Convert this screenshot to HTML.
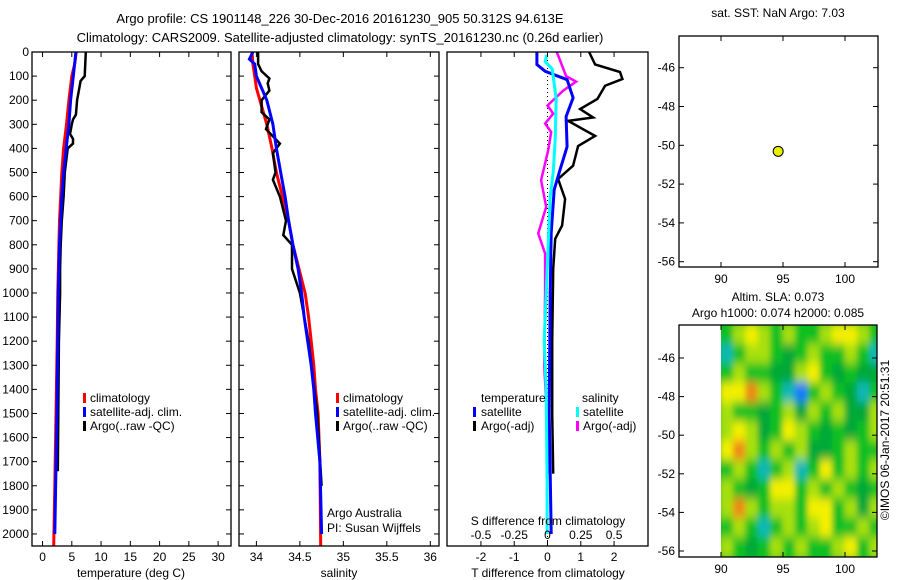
<!DOCTYPE html>
<html><head><meta charset="utf-8"><style>
html,body{margin:0;padding:0;background:#fff;}
svg{display:block;font-family:"Liberation Sans",sans-serif;font-size:12px;}
</style></head><body>
<svg id="fig" width="900" height="580" viewBox="0 0 900 580">
<text x="340" y="23" text-anchor="middle" font-size="13">Argo profile: CS 1901148_226 30-Dec-2016 20161230_905 50.312S 94.613E</text>
<text x="340" y="42" text-anchor="middle" font-size="13">Climatology: CARS2009. Satellite-adjusted climatology: synTS_20161230.nc (0.26d earlier)</text>
<text x="778" y="17" text-anchor="middle">sat. SST: NaN Argo: 7.03</text>
<text x="778" y="301" text-anchor="middle">Altim. SLA: 0.073</text>
<text x="778" y="317" text-anchor="middle">Argo h1000: 0.074 h2000: 0.085</text>
<text transform="translate(889,440) rotate(-90)" text-anchor="middle">©IMOS 06-Jan-2017 20:51:31</text>
<g id="plots"></g>
</svg>
<script>
// ---- data ----
const depthTicks=[0,100,200,300,400,500,600,700,800,900,1000,1100,1200,1300,1400,1500,1600,1700,1800,1900,2000];
const tempTicks=[0,5,10,15,20,25,30];
const salTicks=[34,34.5,35,35.5,36];
const salTickLabels=["34","34.5","35","35.5","36"];
const tdTicks=[-2,-1,0,1,2];
const sdTicks=[-0.5,-0.25,0,0.25,0.5];
const sdTickLabels=["-0.5","-0.25","0","0.25","0.5"];
const lonTicks=[90,95,100];
const latTicks=[-46,-48,-50,-52,-54,-56];

const tClimD=[0,50,100,200,300,400,500,600,700,800,1000,1200,1500,1800,2050];
const tClimV=[5.75,5.5,5.0,4.5,4.1,3.6,3.3,3.1,2.9,2.8,2.6,2.5,2.3,2.1,1.9];
const tSatD=[0,100,200,300,400,500,600,700,800,1000,1500,2000];
const tSatV=[5.7,5.25,4.8,4.5,4.05,3.6,3.3,3.1,2.9,2.7,2.45,2.1];
const tArgoD=[0,100,120,200,260,280,300,340,360,380,400,500,600,700,800,900,1000,1200,1500,1740];
const tArgoV=[7.4,7.2,6.5,5.9,5.7,5.2,5.0,4.7,5.2,5.2,4.3,3.8,3.6,3.3,3.1,3.0,3.0,2.8,2.7,2.6];

const sClimD=[0,50,100,150,200,300,400,500,600,700,800,900,1000,1100,1200,1300,1400,1500,1700,2050];
const sClimV=[33.95,33.96,33.98,34.0,34.04,34.12,34.18,34.23,34.30,34.37,34.42,34.49,34.56,34.60,34.63,34.66,34.68,34.71,34.73,34.74];
const sSatD=[0,30,50,100,150,200,300,400,500,600,700,800,900,1000,1100,1200,1300,1400,1500,1700,2000];
const sSatV=[33.96,33.92,33.98,34.0,34.06,34.12,34.19,34.23,34.28,34.33,34.37,34.42,34.48,34.52,34.55,34.59,34.63,34.66,34.68,34.73,34.75];
const sArgoD=[0,50,80,110,130,160,200,250,280,320,380,420,500,530,600,700,760,800,900,1000,1200,1500,1800];
const sArgoV=[34.02,34.02,34.06,34.15,34.13,34.15,34.06,34.06,34.15,34.11,34.27,34.19,34.22,34.19,34.27,34.34,34.31,34.41,34.41,34.50,34.60,34.70,34.75];

const dTSatD=[0,52,80,115,190,268,393,488,571,750,1000,1500,2000];
const dTSatV=[-0.32,-0.32,-0.07,0.59,0.77,0.56,0.59,0.38,0.2,0.11,0.08,0.05,0.11];
const dTArgoD=[0,52,83,112,140,195,237,272,286,348,390,472,527,610,720,775,900,1200,1500,1750];
const dTArgoV=[1.25,1.43,2.18,2.25,1.73,1.5,0.98,1.37,0.62,1.43,0.92,0.77,0.32,0.53,0.44,0.23,0.17,0.14,0.14,0.17];
const dSSatD=[12,40,70,195,362,500,600,800,1000,1200,1400,1800,2000];
const dSSatV=[-0.005,-0.018,0.035,0.065,0.058,0.043,0.02,0.005,-0.01,-0.025,-0.01,-0.003,-0.003];
const dSArgoD=[0,100,123,160,222,256,297,332,408,532,643,753,836,1000,1300,1600,1750];
const dSArgoV=[0.07,0.14,0.215,0.118,0,0.043,-0.018,0.028,0.005,-0.048,-0.01,-0.07,-0.018,-0.018,-0.025,0.005,0.013];

const argoLon=[94.61];
const argoLat=[-50.31];
const slaLons=[90.5,91.5,92.5,93.5,94.5,95.5,96.5,97.5,98.5,99.5,100.5,101.5,102.5];
const slaLats=[-44.8,-45.8,-46.8,-47.8,-48.8,-49.8,-50.8,-51.8,-52.8,-53.8,-54.8,-55.8];
const slaGrid=[
[0,1,2,1,0,1,0,0,1,2,2,1,0],
[-2,0,1,1,0,-1,0,1,0,0,1,0,-2],
[0,1,0,0,-1,-1,1,2,0,-1,0,-1,-1],
[2,2,3,1,0,-2,-3,0,1,0,-1,-2,0],
[1,0,0,-1,0,1,-1,1,0,1,-1,-1,1],
[1,2,1,-1,0,2,1,0,-1,0,-1,0,1],
[2,3,1,0,1,0,1,-1,-1,0,1,0,0],
[0,1,0,-2,0,1,-2,0,2,0,1,0,1],
[1,0,-1,0,2,2,0,1,0,1,0,-1,0],
[1,3,1,0,1,1,0,2,2,0,1,-1,1],
[0,1,0,-2,0,1,0,1,2,0,0,1,0],
[1,0,-1,0,1,0,1,0,0,1,2,0,1]];

// ---- helpers ----
const NS="http://www.w3.org/2000/svg";
const root=document.getElementById('plots');
function mk(tag,attrs,parent){const e=document.createElementNS(NS,tag);for(const k in attrs)e.setAttribute(k,attrs[k]);(parent||root).appendChild(e);return e;}
function lin(d0,d1,r0,r1){return v=>r0+(v-d0)*(r1-r0)/(d1-d0);}
const yD=lin(0,2050,52,546);

function frame(x0,x1,y0,y1,name){
  const r=mk('rect',{x:x0,y:y0,width:x1-x0,height:y1-y0,fill:'none',stroke:'#000','stroke-width':1.3});
  
  
}
function line(D,V,xs,ys,color,w,name){
  let d='';
  for(let i=0;i<D.length;i++){d+=(i?'L':'M')+xs(V[i]).toFixed(1)+','+ys(D[i]).toFixed(1);}
  const p=mk('path',{d:d,fill:'none',stroke:color,'stroke-width':w,'stroke-linejoin':'miter'});
  
  
}
function xticks(ticks,labels,xs,y0,y1,ly,name){
  ticks.forEach((t,i)=>{
    const x=xs(t);
    mk('line',{x1:x,x2:x,y1:y1,y2:y1-5,stroke:'#000'});
    mk('line',{x1:x,x2:x,y1:y0,y2:y0+5,stroke:'#000'});
    if(ly!==null){const tx=mk('text',{x:x,y:ly,'text-anchor':'middle'});tx.textContent=labels[i];
      
      }
  });
}
function yticks(ticks,labels,ys,x0,x1,lx,name){
  ticks.forEach((t,i)=>{
    const y=ys(t);
    mk('line',{x1:x0,x2:x0+5,y1:y,y2:y,stroke:'#000'});
    mk('line',{x1:x1,x2:x1-5,y1:y,y2:y,stroke:'#000'});
    if(lx!==null){const tx=mk('text',{x:lx,y:y+4,'text-anchor':'end'});tx.textContent=labels[i];
      
      }
  });
}
function txt(x,y,s,name,anchor){const t=mk('text',{x:x,y:y,'text-anchor':anchor||'start'});t.textContent=s;
  
  return t;}
function legMark(x,y,color,name){const r=mk('rect',{x:x,y:y-9,width:3,height:10,fill:color});
  
  }

// ---- panel 1: temperature ----
const xT=lin(-1.8,32.2,32,231);
line(tClimD,tClimV,xT,yD,'#f00',3,'temp-climatology-line');
line(tArgoD,tArgoV,xT,yD,'#000',2.5,'temp-argo-line');
line(tSatD,tSatV,xT,yD,'#00f',3,'temp-satellite-line');
frame(32,231,52,546,'temperature-panel');
xticks(tempTicks,tempTicks.map(String),xT,52,546,561,'temp-tick');
yticks(depthTicks,depthTicks.map(String),yD,32,231,29,'depth-tick');
txt(131,577,'temperature (deg C)','temp-axis-title','middle');
legMark(83,402,'#f00','legend-climatology-mark');txt(90,402,'climatology','legend-climatology');
legMark(83,416,'#00f','legend-satellite-mark');txt(90,416,'satellite-adj. clim.','legend-satellite');
legMark(83,430,'#000','legend-argo-mark');txt(90,430,'Argo(..raw -QC)','legend-argo');

// ---- panel 2: salinity ----
const xS=lin(33.8,36.1,239,439);
line(sClimD,sClimV,xS,yD,'#f00',3,'sal-climatology-line');
line(sArgoD,sArgoV,xS,yD,'#000',2.5,'sal-argo-line');
line(sSatD,sSatV,xS,yD,'#00f',3,'sal-satellite-line');
frame(239,439,52,546,'salinity-panel');
xticks(salTicks,salTickLabels,xS,52,546,561,'sal-tick');
yticks(depthTicks,depthTicks.map(String),yD,239,439,null,'depth2-tick');
txt(339,577,'salinity','sal-axis-title','middle');
legMark(336,402,'#f00','legend2-climatology-mark');txt(343,402,'climatology','legend2-climatology');
legMark(336,416,'#00f','legend2-satellite-mark');txt(343,416,'satellite-adj. clim.','legend2-satellite');
legMark(336,430,'#000','legend2-argo-mark');txt(343,430,'Argo(..raw -QC)','legend2-argo');
txt(327,517,'Argo Australia','argo-australia-label');
txt(327,532,'PI: Susan Wijffels','pi-label');

// ---- panel 3: differences ----
const xTD=lin(-3.02,3.02,447,648);
const xSD=lin(-0.755,0.755,447,648);
mk('line',{x1:xTD(0),x2:xTD(0),y1:52,y2:546,stroke:'#000','stroke-dasharray':'1,3'});
line(dSArgoD,dSArgoV,xSD,yD,'#f0f',2.5,'sdiff-argo-line');
line(dTArgoD,dTArgoV,xTD,yD,'#000',2.5,'tdiff-argo-line');
line(dTSatD,dTSatV,xTD,yD,'#00f',3,'tdiff-satellite-line');
line(dSSatD,dSSatV,xSD,yD,'#0ff',3,'sdiff-satellite-line');
frame(447,648,52,546,'difference-panel');
xticks(tdTicks,tdTicks.map(String),xTD,52,546,561,'tdiff-tick');
sdTicks.forEach((t,i)=>{txt(xSD(t),539,sdTickLabels[i],'sdiff-tick-label','middle');});
txt(548,525,'S difference from climatology','sdiff-axis-title','middle');
txt(548,577,'T difference from climatology','tdiff-axis-title','middle');
txt(481,402,'temperature','legend3-temperature-heading');
txt(582,402,'salinity','legend3-salinity-heading');
legMark(473,416,'#00f','legend3-tsat-mark');txt(481,416,'satellite','legend3-tsat');
legMark(473,430,'#000','legend3-targo-mark');txt(481,430,'Argo(-adj)','legend3-targo');
legMark(576,416,'#0ff','legend3-ssat-mark');txt(583,416,'satellite','legend3-ssat');
legMark(576,430,'#f0f','legend3-sargo-mark');txt(583,430,'Argo(-adj)','legend3-sargo');

// ---- SST map ----
const xLon1=lin(90,100,721,845);
const yLat1=lin(-46,-56,67.7,261.7);
frame(679,878,36,267,'sst-map-panel');
xticks(lonTicks,lonTicks.map(String),xLon1,36,267,283,'sst-lon-tick');
yticks(latTicks,latTicks.map(String),yLat1,679,878,675,'sst-lat-tick');
argoLon.forEach((lo,i)=>{const c=mk('circle',{cx:xLon1(lo),cy:yLat1(argoLat[i]),r:5,fill:'#e6f000',stroke:'#000','stroke-width':1});
  
  });

// ---- SLA map ----
const xLon2=lin(90,100,721,845);
const yLat2=lin(-46,-56,358,551);
const defs=mk('defs',{});
const cp=mk('clipPath',{id:'slaclip'},defs);
mk('rect',{x:721,y:325,width:877-721,height:557-325},cp);
const flt=mk('filter',{id:'blur',x:'-10%',y:'-10%',width:'120%',height:'120%'},defs);
mk('feGaussianBlur',{stdDeviation:'3 5'},flt);
const gc=mk('g',{'clip-path':'url(#slaclip)'});
const g=mk('g',{filter:'url(#blur)'},gc);
const cols={"-3":"#1878ff","-2":"#10b8b8","-1":"#00a838","0":"#10c020","1":"#a8e010","2":"#f4f000","3":"#f08818"};
mk('rect',{x:700,y:305,width:200,height:270,fill:'#10c020'},g);
slaLats.forEach((la,r)=>{slaLons.forEach((lo,c)=>{
  const v=slaGrid[r][c];
  const cell=mk('rect',{x:xLon2(lo-0.5)-0.5,y:yLat2(la+0.5)-0.5,width:xLon2(lo+0.5)-xLon2(lo-0.5)+1,height:yLat2(la-0.5)-yLat2(la+0.5)+1,fill:cols[String(v)]},g);
  
  
});});
frame(679,877,325,557,'sla-map-panel');
xticks(lonTicks,lonTicks.map(String),xLon2,325,557,573,'sla-lon-tick');
yticks(latTicks,latTicks.map(String),yLat2,679,877,675,'sla-lat-tick');
</script>
</body></html>
